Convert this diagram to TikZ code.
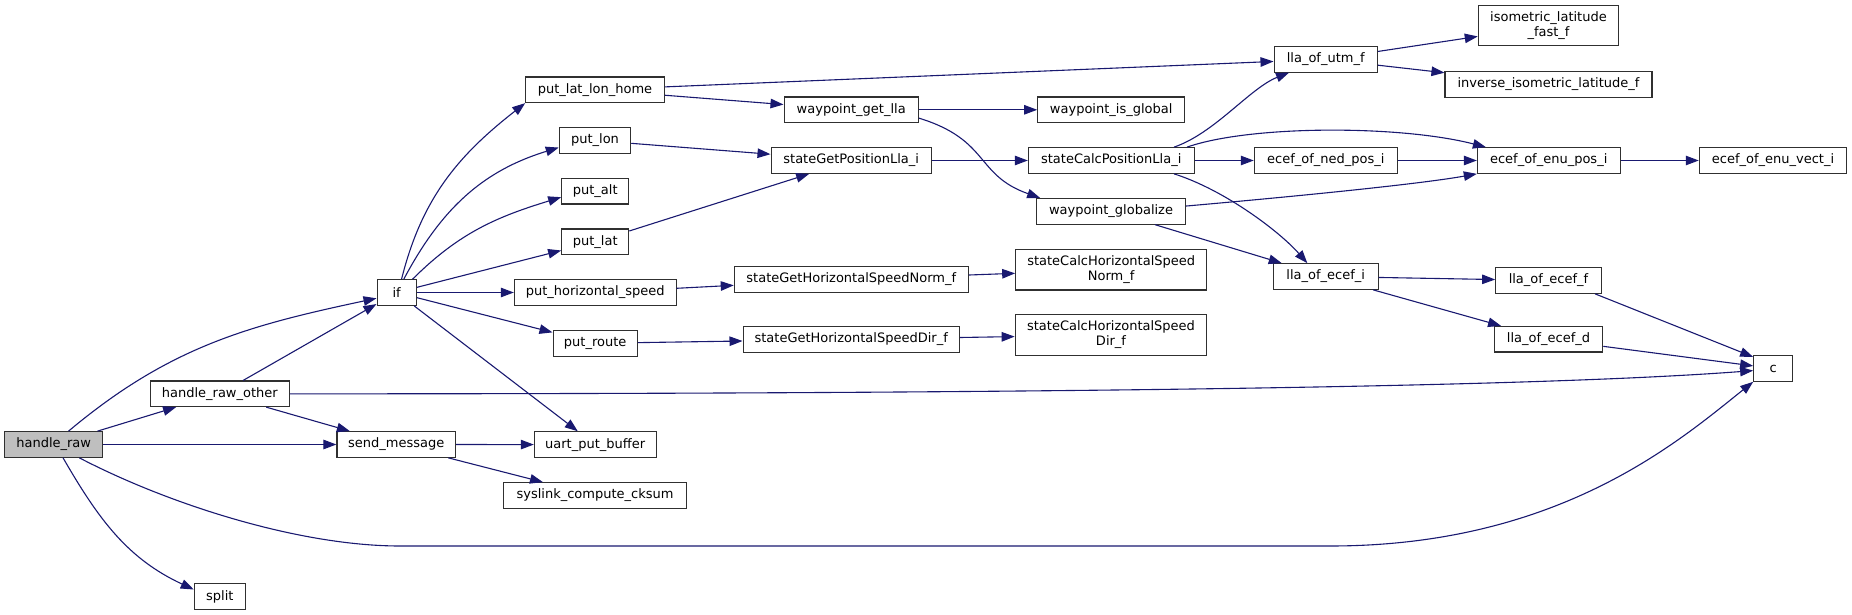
\documentclass[tikz,border=0pt]{standalone}
\usepackage{fontspec}
\setmainfont{DejaVu Sans}
\usepackage{tikz}
\usetikzlibrary{arrows.meta}
\definecolor{callblue}{HTML}{191970}
\definecolor{rootgrey}{HTML}{BFBFBF}
\definecolor{boxline}{HTML}{303030}
\tikzset{
  fn/.style     = {rectangle, draw=boxline, fill=white, line width=1.1pt, inner sep=0pt,
                   align=center, font=\fontsize{13}{15}\selectfont, minimum height=25.6pt},
  fntwo/.style  = {fn, minimum height=40.3pt},
  rootfn/.style = {fn, fill=rootgrey},
  call/.style   = {-{Triangle[length=13pt,width=9.5pt]}, line width=1.1pt, draw=callblue},
}

\begin{document}
\begin{tikzpicture}[x=1pt, y=-1pt]
  \useasboundingbox (0,0) rectangle (1852,615);
  \node[rootfn, minimum width=98pt] (hr) at (53.7,444.5) {handle\_raw};
  \node[fn, minimum width=139pt] (hro) at (219.8,393.8) {handle\_raw\_other};
  \node[fn, minimum width=51pt] (sp) at (219.8,596.5) {split};
  \node[fn, minimum width=39.3pt] (ifn) at (396.7,292.5) {if};
  \node[fn, minimum width=118.7pt] (sm) at (396.3,444.5) {send\_message};

  \node[fn, minimum width=138.6pt] (pllh) at (595,89.8) {put\_lat\_lon\_home};
  \node[fn, minimum width=71.4pt] (plon) at (595,140.5) {put\_lon};
  \node[fn, minimum width=67pt] (palt) at (595.2,191.2) {put\_alt};
  \node[fn, minimum width=67pt] (plat) at (595.2,241.8) {put\_lat};
  \node[fn, minimum width=161.7pt] (phs) at (595.2,292.5) {put\_horizontal\_speed};
  \node[fn, minimum width=84.3pt] (proute) at (595.2,343.3) {put\_route};
  \node[fn, minimum width=121.7pt] (upb) at (595.2,444.6) {uart\_put\_buffer};
  \node[fn, minimum width=183.4pt] (scc) at (595,495.5) {syslink\_compute\_cksum};

  \node[fn, minimum width=134.3pt] (wgl) at (851.2,109.8) {waypoint\_get\_lla};
  \node[fn, minimum width=160.3pt] (sgp) at (851.2,160.5) {stateGetPositionLla\_i};
  \node[fn, minimum width=234pt] (sghn) at (851.3,279.3) {stateGetHorizontalSpeedNorm\_f};
  \node[fn, minimum width=216.3pt] (sghd) at (851.2,339.3) {stateGetHorizontalSpeedDir\_f};

  \node[fn, minimum width=147pt] (wig) at (1111.2,109.8) {waypoint\_is\_global};
  \node[fn, minimum width=165.7pt] (scp) at (1111.2,160.5) {stateCalcPositionLla\_i};
  \node[fn, minimum width=148.6pt] (wglob) at (1111,211.3) {waypoint\_globalize};
  \node[fntwo, minimum width=191pt] (schn) at (1111.2,269.8) {stateCalcHorizontalSpeed\\Norm\_f};
  \node[fntwo, minimum width=191.6pt] (schd) at (1111,335) {stateCalcHorizontalSpeed\\Dir\_f};

  \node[fn, minimum width=103.3pt] (lutm) at (1325.7,59.3) {lla\_of\_utm\_f};
  \node[fn, minimum width=143pt] (enp) at (1325.8,160.5) {ecef\_of\_ned\_pos\_i};
  \node[fn, minimum width=104.7pt] (lei) at (1325.7,276.5) {lla\_of\_ecef\_i};

  \node[fntwo, minimum width=140.4pt] (ilf) at (1548.5,25.8) {isometric\_latitude\\\_fast\_f};
  \node[fn, minimum width=207pt] (iil) at (1548.5,84.5) {inverse\_isometric\_latitude\_f};
  \node[fn, minimum width=142.7pt] (eep) at (1548.7,160.5) {ecef\_of\_enu\_pos\_i};
  \node[fn, minimum width=105.6pt] (lef) at (1548.5,280.5) {lla\_of\_ecef\_f};
  \node[fn, minimum width=108.4pt] (led) at (1548.5,339.2) {lla\_of\_ecef\_d};

  \node[fn, minimum width=147.4pt] (eev) at (1773,160.5) {ecef\_of\_enu\_vect\_i};
  \node[fn, minimum width=39pt] (cn) at (1773.2,368.5) {c};

  \draw[call] (hr.42) to[out=40,in=192] (ifn.196);
  \draw[call] (hr) -- (hro); \draw[call] (hr) -- (sm);
  \draw[call] (hr.-55) to[out=-60,in=155] (sp.165);
  \draw[call] (hr) .. controls (170,505) and (300,546) .. (400,546) -- (1330,546)
    .. controls (1560,546) and (1680,440) .. (cn.south west);

  \draw[call] (hro) -- (ifn); \draw[call] (hro) -- (sm);
  \draw[call] (hro) .. controls (1100,394) and (1550,386) .. (cn.186);

  \draw[call] (ifn.70) to[out=76,in=218] (pllh.south west);
  \draw[call] (ifn.62) to[out=62,in=197] (plon.191);
  \draw[call] (ifn.40) to[out=45,in=197] (palt.190);
  \draw[call] (ifn) -- (plat); \draw[call] (ifn) -- (phs);
  \draw[call] (ifn) -- (proute); \draw[call] (ifn) -- (upb);
  \draw[call] (sm) -- (upb); \draw[call] (sm) -- (scc);

  \draw[call] (pllh) -- (lutm); \draw[call] (pllh) -- (wgl);
  \draw[call] (plon) -- (sgp); \draw[call] (plat) -- (sgp);
  \draw[call] (phs) -- (sghn); \draw[call] (proute) -- (sghd);

  \draw[call] (wgl) -- (wig);
  \draw[call] (wgl.-7) .. controls (990,140) and (975,175) .. ([xshift=4pt]wglob.north west);
  \draw[call] (sgp) -- (scp);
  \draw[call] (sghn) -- (schn); \draw[call] (sghd) -- (schd);

  \draw[call] (scp.12) .. controls (1215,133) and (1250,88) .. (lutm.200);
  \draw[call] (scp.10) .. controls (1250,125) and (1400,125) .. (eep.168);
  \draw[call] (scp) -- (enp);
  \draw[call] (scp.-12) .. controls (1225,190) and (1280,232) .. (lei.144);
  \draw[call] (wglob.4) .. controls (1300,196) and (1420,184) .. (eep.south west);
  \draw[call] (wglob) -- (lei);

  \draw[call] (lutm) -- (ilf); \draw[call] (lutm) -- (iil);
  \draw[call] (enp) -- (eep); \draw[call] (eep) -- (eev);
  \draw[call] (lei) -- (lef); \draw[call] (lei) -- (led);
  \draw[call] (lef.-16) -- (cn.150); \draw[call] (led) -- (cn);
\end{tikzpicture}
\end{document}
